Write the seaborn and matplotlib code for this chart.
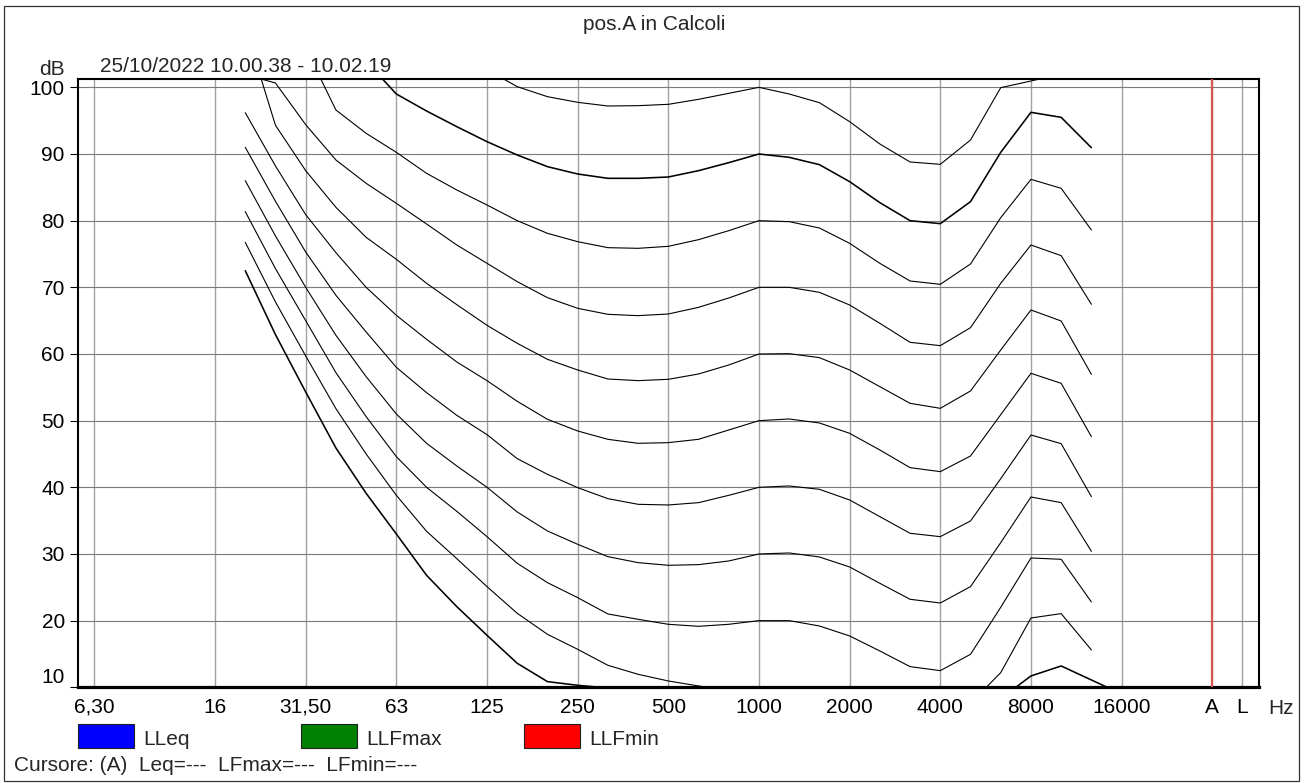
import numpy as np
import pandas as pd
import matplotlib
matplotlib.use("Agg")
import matplotlib.pyplot as plt
from matplotlib.patches import Rectangle
import seaborn as sns

# ---------------- data ----------------
BANDS = ['6,30', '8', '10', '12,5', '16', '20', '25', '31,50', '40', '50', '63', '80',
         '100', '125', '160', '200', '250', '315', '400', '500', '630', '800', '1000',
         '1250', '1600', '2000', '2500', '3150', '4000', '5000', '6300', '8000', '10000',
         '12500', '16000', '20000', '', 'A', 'L']
TICK_LABELS = ['6,30', '16', '31,50', '63', '125', '250', '500', '1000', '2000', '4000',
               '8000', '16000', 'A', 'L']
FREQS = ['20', '25', '31,50', '40', '50', '63', '80', '100', '125', '160', '200', '250',
         '315', '400', '500', '630', '800', '1000', '1250', '1600', '2000', '2500', '3150',
         '4000', '5000', '6300', '8000', '10000', '12500', '16000']
nan = np.nan

phon_0 = [72.5, 62.9, 54.3, 45.9, 39.1, 33.0, 26.8, 22.1, 17.8, 13.6, 10.85, 10.3, 9.9,
          nan, nan, nan, nan, nan, nan, nan, nan, nan, nan, nan, nan,
          8.3, 11.7, 13.2, 11.1, 9.0]
phon_10 = [76.75, 67.8, 59.7, 51.8, 45.0, 38.8, 33.4, 29.3, 25.1, 21.1, 17.95, 15.7, 13.3,
           11.95, 10.95, 10.2, 9.6, 10.0, 10.0, nan, nan, nan, nan, nan,
           7.6, 12.2, 20.4, 21.05, 15.6, nan]
phon_20 = [81.35, 72.8, 65.0, 57.2, 50.6, 44.6, 40.0, 36.4, 32.6, 28.6, 25.7, 23.45, 21.0,
           20.2, 19.45, 19.15, 19.45, 20.0, 20.0, 19.2, 17.7, 15.45, 13.1, 12.5,
           14.95, 22.0, 29.4, 29.2, 22.8, nan]
phon_30 = [86.0, 77.7, 70.0, 62.8, 56.6, 51.0, 46.6, 43.2, 40.0, 36.3, 33.45, 31.45, 29.6,
           28.7, 28.3, 28.4, 28.95, 30.0, 30.15, 29.55, 28.05, 25.6, 23.2, 22.65,
           25.1, 31.7, 38.55, 37.7, 30.4, nan]
phon_40 = [91.0, 82.9, 75.3, 68.8, 63.3, 58.0, 54.2, 50.8, 47.9, 44.3, 41.95, 39.95, 38.3,
           37.45, 37.35, 37.7, 38.8, 40.0, 40.2, 39.7, 38.1, 35.6, 33.1, 32.6,
           34.95, 41.3, 47.85, 46.55, 38.6, nan]
phon_50 = [96.2, 88.2, 80.9, 75.2, 70.0, 65.8, 62.2, 58.8, 56.0, 52.9, 50.2, 48.45, 47.2,
           46.6, 46.7, 47.2, 48.6, 50.0, 50.25, 49.65, 48.1, 45.6, 42.95, 42.35,
           44.7, 50.9, 57.1, 55.6, 47.6, nan]
phon_60 = [109.0, 94.3, 87.5, 82.0, 77.5, 74.2, 70.6, 67.4, 64.3, 61.6, 59.2, 57.6, 56.25,
           56.0, 56.2, 57.0, 58.35, 60.0, 60.05, 59.45, 57.6, 55.1, 52.6, 51.85,
           54.45, 60.6, 66.6, 64.95, 56.95, nan]
phon_70 = [101.9, 100.65, 94.4, 89.1, 85.6, 82.6, 79.5, 76.35, 73.6, 70.85, 68.45, 66.85, 65.95,
           65.75, 66.0, 67.0, 68.4, 70.0, 70.0, 69.25, 67.35, 64.6, 61.75, 61.25,
           63.95, 70.6, 76.35, 74.75, 67.45, nan]
phon_80 = [nan, nan, 105.9, 96.6, 93.1, 90.25, 87.1, 84.6, 82.35, 80.0, 78.1, 76.85, 75.95,
           75.85, 76.15, 77.15, 78.5, 80.0, 79.85, 78.9, 76.6, 73.6, 70.95, 70.45,
           73.5, 80.45, 86.2, 84.85, 78.6, nan]
phon_90 = [nan, nan, nan, nan, 103.9, 99.0, 96.45, 94.1, 91.85, 89.85, 88.1, 87.0, 86.35,
           86.35, 86.55, 87.5, 88.7, 90.0, 89.5, 88.4, 85.85, 82.7, 80.0, 79.55,
           82.85, 90.25, 96.25, 95.5, 90.95, nan]
phon_100 = [nan, nan, nan, nan, nan, nan, nan, nan, 102.65, 100.1, 98.6, 97.75, 97.2,
            97.25, 97.45, 98.2, 99.1, 100.0, 99.0, 97.7, 94.85, 91.5, 88.8, 88.45,
            92.1, 99.95, 100.95, 102.0, 102.0, nan]

CURVES = {0: phon_0, 10: phon_10, 20: phon_20, 30: phon_30, 40: phon_40, 50: phon_50,
          60: phon_60, 70: phon_70, 80: phon_80, 90: phon_90, 100: phon_100}
Y_TICKS = list(range(10, 101, 10))
LEGEND_NAMES = ['LLeq', 'LLFmax', 'LLFmin']
LEGEND_COLORS = ['#0000ff', '#008000', '#ff0000']

# ---------------- figure ----------------
sns.set_theme(style="white")
plt.rcParams['font.family'] = ['Liberation Sans', 'DejaVu Sans']
FS = 15.0

W, H = 1308, 783
fig = plt.figure(figsize=(W / 100, H / 100), dpi=100)
fig.patch.set_facecolor('white')


def fx(px):
    return px / W


def fy(py):
    return 1 - py / H


ax_l, ax_r, ax_t, ax_b = 78, 1258.5, 79, 687.3
ax = fig.add_axes([fx(ax_l), fy(ax_b), (ax_r - ax_l) / W, (ax_b - ax_t) / H])
ax.set_facecolor('white')

pos_of = {b: i for i, b in enumerate(BANDS)}
rows = []
for phon, vals in CURVES.items():
    for f, v in zip(FREQS, vals):
        rows.append({'pos': pos_of[f], 'dB': v, 'phon': phon})
df = pd.DataFrame(rows)

for phon in CURVES:
    sub = df[df['phon'] == phon]
    lw = 1.15 if phon in (0, 90) else 0.8
    sns.lineplot(data=sub, x='pos', y='dB', ax=ax, color='black', linewidth=lw,
                 estimator=None, sort=False, legend=False, zorder=4)

ax.set_xlim(-0.535, 38.53)
ax.set_ylim(10, 101.25)

tick_pos = [pos_of[t] for t in TICK_LABELS]
ax.set_xticks(tick_pos)
ax.set_xticklabels(TICK_LABELS, fontsize=FS)
ax.set_yticks(Y_TICKS)
ax.set_yticklabels([str(t) for t in Y_TICKS], fontsize=FS)
ax.set_xlabel('')
ax.set_ylabel('')

ax.set_axisbelow(True)
ax.grid(axis='x', color='#a0a0a0', linewidth=1.0)
ax.grid(axis='y', color='#7a7a7a', linewidth=0.8)

ax.axvline(pos_of['A'], color='#d9534f', linewidth=1.6, zorder=5)

for s in ['left', 'right', 'top']:
    ax.spines[s].set_color('black')
    ax.spines[s].set_linewidth(1.5)
    ax.spines[s].set_visible(True)
ax.spines['bottom'].set_color('black')
ax.spines['bottom'].set_linewidth(2.3)
ax.spines['bottom'].set_visible(True)

ax.tick_params(axis='x', length=0, pad=7.5, colors='black')
ax.tick_params(axis='y', length=6, width=0.8, pad=3.5, direction='out', colors='black', left=True)

ylabels = ax.get_yticklabels()
ylabels[0].set_verticalalignment('bottom')

# Hz unit at the end of the x axis
fig.text(fx(1281), fy(714.5), 'Hz', ha='center', va='baseline', fontsize=FS)

# texts
fig.text(fx(654), fy(30), 'pos.A in Calcoli', ha='center', va='baseline', fontsize=FS)
fig.text(fx(39), fy(75), 'dB', ha='left', va='baseline', fontsize=FS)
fig.text(fx(100), fy(72), '25/10/2022 10.00.38 - 10.02.19', ha='left', va='baseline', fontsize=FS)
fig.text(fx(14), fy(771), 'Cursore: (A)  Leq=---  LFmax=---  LFmin=---', ha='left',
         va='baseline', fontsize=FS)

# legend boxes
box_x = [78, 301, 524]
for x0, name, col in zip(box_x, LEGEND_NAMES, LEGEND_COLORS):
    fig.patches.append(Rectangle((fx(x0), fy(748)), 55.5 / W, 24 / H, transform=fig.transFigure,
                                 facecolor=col, edgecolor='#202020', linewidth=0.8))
    fig.text(fx(x0 + 65.5), fy(745), name, ha='left', va='baseline', fontsize=FS)

# outer frame
fig.patches.append(Rectangle((fx(4), fy(781)), (1299 - 4) / W, (781 - 6) / H,
                             transform=fig.transFigure, facecolor='none',
                             edgecolor='#333333', linewidth=0.9))

fig.savefig('out.png', dpi=100, facecolor='white')
